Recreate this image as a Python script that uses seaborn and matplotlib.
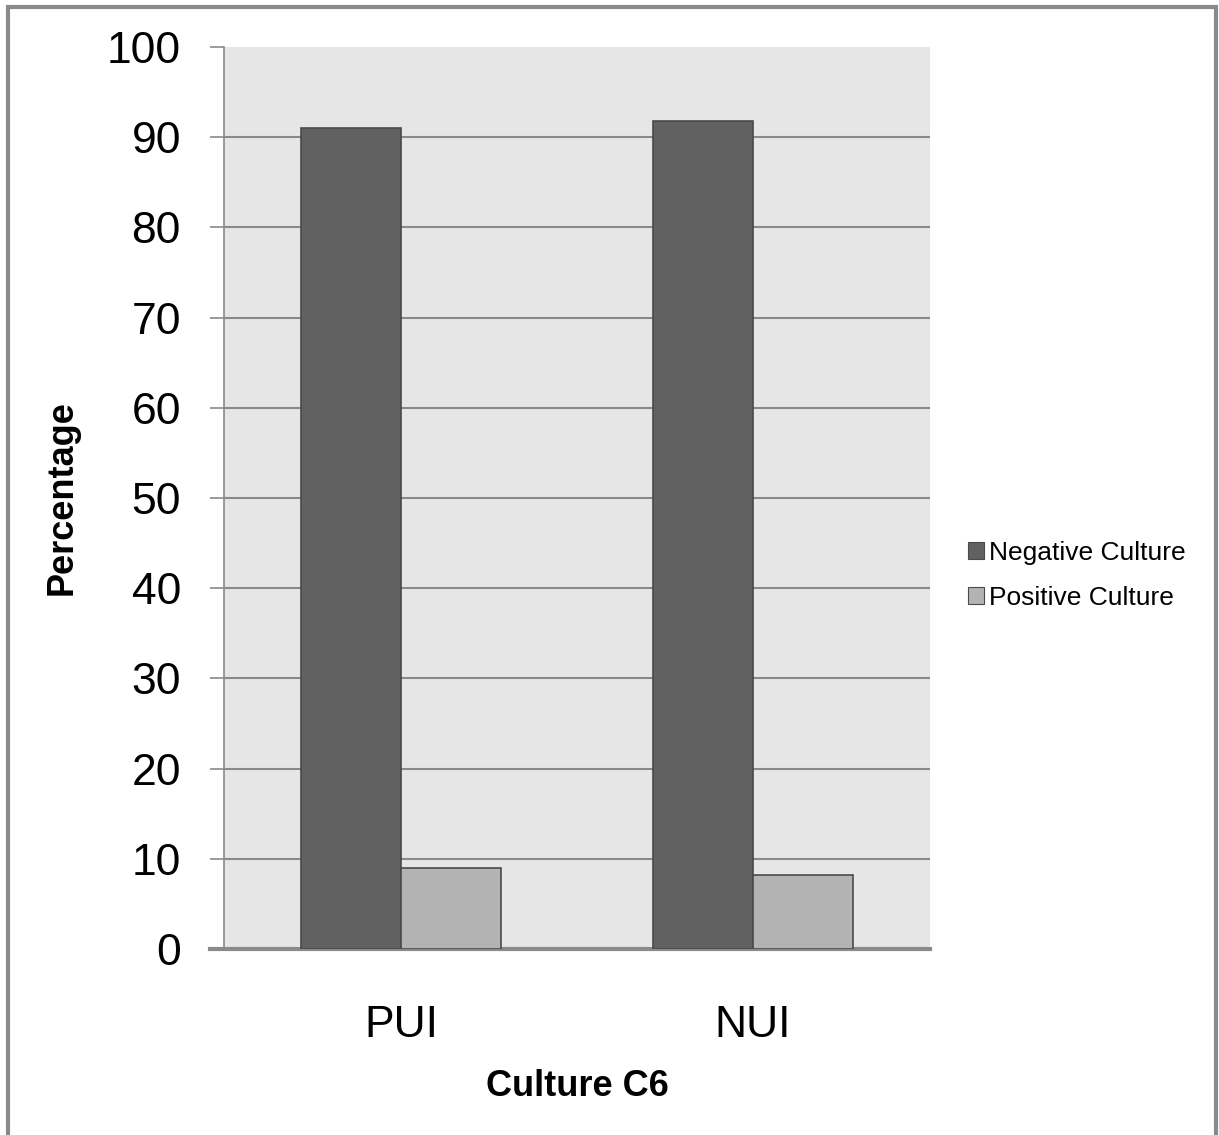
import matplotlib
matplotlib.use("Agg")
import matplotlib.pyplot as plt
import seaborn as sns
import pandas as pd
from matplotlib.patches import Rectangle, Patch

categories = ["PUI", "NUI"]
series_names = ["Negative Culture", "Positive Culture"]
negative_values = [91.0, 91.8]
positive_values = [9.0, 8.2]
y_ticks = [0, 10, 20, 30, 40, 50, 60, 70, 80, 90, 100]

colors = ["#616161", "#b3b3b3"]

df = pd.DataFrame({
    "Category": categories * 2,
    "Series": [series_names[0]] * 2 + [series_names[1]] * 2,
    "Value": negative_values + positive_values,
})

sns.set_theme(style="white")
plt.rcParams["font.family"] = ["Liberation Sans", "DejaVu Sans"]
plt.rcParams["text.color"] = "black"

W, H = 1219, 1135
fig = plt.figure(figsize=(W / 100, H / 100), dpi=100)
ax = fig.add_axes([224 / W, 1 - 949 / H, (930 - 224) / W, (949 - 47) / H])
ax.set_facecolor("#e6e6e6")

sns.barplot(data=df, x="Category", y="Value", hue="Series", order=categories,
            hue_order=series_names, palette=colors, width=0.57, saturation=1,
            edgecolor="#4a4a4a", linewidth=1.2, ax=ax, legend=False, zorder=3)

ax.set_xlim(-0.503, 1.503)
ax.set_ylim(0, 100)
ax.set_yticks(y_ticks)
ax.set_yticklabels([str(t) for t in y_ticks], fontsize=32, color="black")
ax.yaxis.grid(True, color="#8a8a8a", linewidth=1.5, zorder=0)
ax.set_axisbelow(True)
ax.tick_params(axis="y", length=10, width=1.2, color="#8a8a8a", pad=21, left=True)
ax.tick_params(axis="x", length=0, pad=40, labelsize=32, labelcolor="black")
gl = ax.yaxis.get_gridlines()
gl[-1].set_visible(False)

for s in ["top", "right"]:
    ax.spines[s].set_visible(False)
ax.spines["left"].set_color("#8a8a8a")
ax.spines["left"].set_linewidth(1.2)
ax.spines["bottom"].set_color("#8a8a8a")
ax.spines["bottom"].set_linewidth(3)
ax.spines["bottom"].set_bounds(-0.543, 1.503)

ax.set_xlabel("")
ax.set_ylabel("")
fig.text(62 / W, 1 - 498 / H, "Percentage", rotation=90, fontsize=26,
         fontweight="bold", ha="center", va="center", color="black")
fig.text(577 / W, 1 - 1087 / H, "Culture C6", fontsize=26,
         fontweight="bold", ha="center", va="center", color="black")

handles = [Patch(facecolor=colors[0], edgecolor="#4a4a4a", linewidth=0.8),
           Patch(facecolor=colors[1], edgecolor="#4a4a4a", linewidth=0.8)]
ax.legend(handles, series_names, loc="center left",
          bbox_to_anchor=(968 / W, 1 - 575.5 / H), bbox_transform=fig.transFigure,
          frameon=False, fontsize=19, handlelength=0.6, handleheight=0.6,
          handletextpad=0.2, labelspacing=0.8, borderaxespad=0, borderpad=0,
          labelcolor="black")

fig.patches.append(Rectangle((7.5 / W, -0.05), (1215.5 - 7.5) / W, 1.05 - 6.5 / H,
                             transform=fig.transFigure, fill=False,
                             edgecolor="#8a8a8a", linewidth=3))

fig.savefig("out.png", dpi=100, facecolor="white")
